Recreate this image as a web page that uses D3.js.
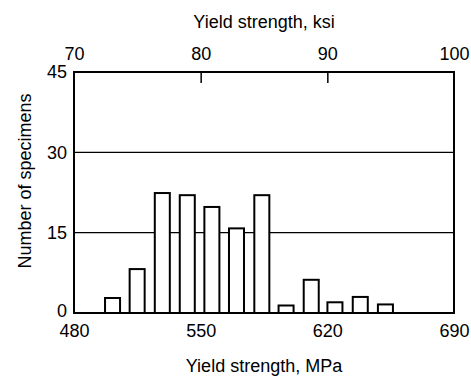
<!DOCTYPE html>
<html>
<head>
<meta charset="utf-8">
<script src="https://cdn.jsdelivr.net/npm/d3@7"></script>
<style>
  body { margin: 0; background: #fff; }
  text { font-family: "Liberation Sans", Arial, sans-serif; fill: #000; }
</style>
</head>
<body>
<svg id="chart"></svg>
<script>
// bin centres (MPa) and counts
const binCenters = [501.3, 514.9, 528.8, 542.6, 556.2, 569.8, 583.8, 597.2, 611.1, 624.2, 638.2, 652.1];
const counts = [2.8, 8.2, 22.4, 22, 19.8, 15.8, 22, 1.4, 6.2, 2, 3, 1.6];
const mpaTicks = [480, 550, 620, 690];
const ksiTicks = [70, 80, 90, 100];
const countTicks = [0, 15, 30, 45];
const gridTicks = [15, 30];

const margin = {top: 72, right: 17, bottom: 65, left: 74},
  width = 471 - margin.left - margin.right,
  height = 313 - margin.top;

const svg = d3.select("#chart")
  .attr("width", 471)
  .attr("height", 378)
  .append("g")
    .attr("transform", "translate(" + margin.left + "," + margin.top + ")");

const x = d3.scaleLinear().domain([480, 690]).range([0, width]);
const xTop = d3.scaleLinear().domain([70, 100]).range([0, width]);
const y = d3.scaleLinear().domain([0, 45]).range([height, 0]);
const barW = 8.3; // MPa

// grid lines
svg.append("g")
  .selectAll("line")
  .data(gridTicks)
  .join("line")
    .attr("x1", 0)
    .attr("x2", width)
    .attr("y1", d => y(d))
    .attr("y2", d => y(d))
    .attr("stroke", "#000")
    .attr("stroke-width", 1.3);

// bars
svg.append("g")
  .selectAll("rect")
  .data(binCenters)
  .join("rect")
    .attr("x", d => x(d - barW / 2))
    .attr("y", (d, i) => y(counts[i]))
    .attr("width", d => x(d + barW / 2) - x(d - barW / 2))
    .attr("height", (d, i) => y(0) - y(counts[i]))
    .attr("fill", "#fff")
    .attr("stroke", "#000")
    .attr("stroke-width", 2);

// frame
svg.append("rect")
  .attr("width", width)
  .attr("height", height)
  .attr("fill", "none")
  .attr("stroke", "#000")
  .attr("stroke-width", 2);

const xAxis = d3.axisBottom(x).tickValues(mpaTicks).tickSize(0).tickPadding(11.5);
const xTopAxis = d3.axisTop(xTop).tickValues(ksiTicks).tickSizeInner(-11).tickSizeOuter(0).tickPadding(12);
const yAxis = d3.axisLeft(y).tickValues(countTicks).tickSize(0).tickPadding(7);

svg.append("g")
  .attr("class", "x axis")
  .attr("transform", "translate(0," + height + ")")
  .call(xAxis);

svg.append("g")
  .attr("class", "x2 axis")
  .call(xTopAxis);

svg.append("g")
  .attr("class", "y axis")
  .call(yAxis);

svg.selectAll(".axis .domain").remove();
svg.selectAll(".axis text")
  .attr("font-size", 18)
  .attr("font-family", "Liberation Sans, Arial, sans-serif");
svg.selectAll(".axis line").attr("stroke-width", 1.5);
svg.selectAll(".x2 .tick").filter(d => d === 70 || d === 100).select("line").remove();
// the 0 label sits a little above the baseline
svg.selectAll(".y .tick").filter(d => d === 0).select("text").attr("dy", "0.2em");

// axis titles
svg.append("text")
  .attr("x", 190)
  .attr("y", 372 - margin.top)
  .attr("text-anchor", "middle")
  .attr("font-size", 18)
  .text("Yield strength, MPa");

svg.append("text")
  .attr("x", 190)
  .attr("y", 28 - margin.top)
  .attr("text-anchor", "middle")
  .attr("font-size", 18)
  .text("Yield strength, ksi");

svg.append("text")
  .attr("transform", "rotate(-90)")
  .attr("x", -(181 - margin.top))
  .attr("y", 31 - margin.left)
  .attr("text-anchor", "middle")
  .attr("font-size", 18)
  .text("Number of specimens");
</script>
</body>
</html>
